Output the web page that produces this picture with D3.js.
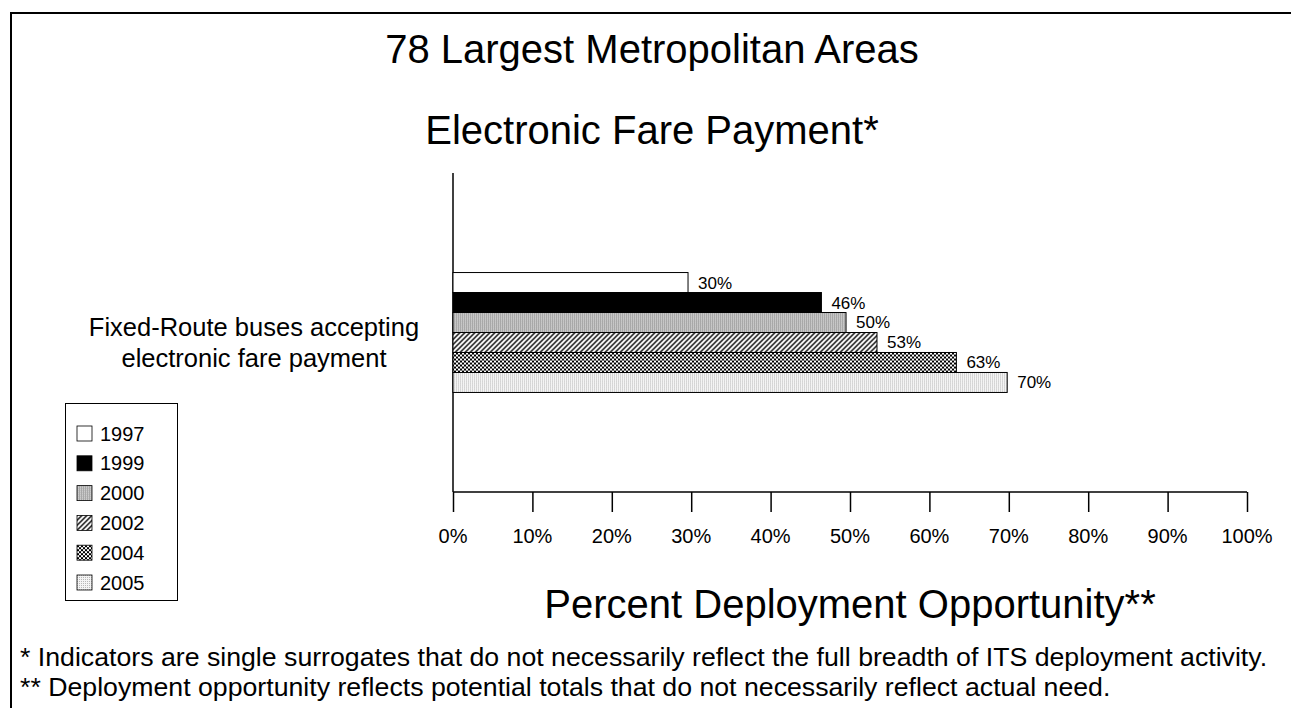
<!DOCTYPE html>
<html><head><meta charset="utf-8">
<script src="https://cdn.jsdelivr.net/npm/d3@7"></script>
<style>body{margin:0;background:#fff;} svg{display:block;} text{font-family:"Liberation Sans",Arial,sans-serif;fill:#000;}</style>
</head><body>
<svg id="chart" width="1291" height="708"></svg>
<script>
const categories = ["Fixed-Route buses accepting electronic fare payment"];
const categoryLines = ["Fixed-Route buses accepting", "electronic fare payment"];
const years = ["1997", "1999", "2000", "2002", "2004", "2005"];
const values = [29.6, 46.4, 49.5, 53.4, 63.4, 69.8];
const ticks = [0, 10, 20, 30, 40, 50, 60, 70, 80, 90, 100];
const titles = ["78 Largest Metropolitan Areas", "Electronic Fare Payment*"];
const xTitle = "Percent Deployment Opportunity**";
const footnotes = [
  "* Indicators are single surrogates that do not necessarily reflect the full breadth of ITS deployment activity.",
  "** Deployment opportunity reflects potential totals that do not necessarily reflect actual need."
];
const fills = ["#fff", "#000", "url(#p2000)", "url(#p2002)", "url(#p2004)", "url(#p2005)"];

const svg = d3.select("#chart");
const defs = svg.append("defs");
// 2000: fine gray grid
let p = defs.append("pattern").attr("id","p2000").attr("patternUnits","userSpaceOnUse").attr("width",2).attr("height",2);
p.append("rect").attr("width",2).attr("height",2).attr("fill","#e4e4e4");
p.append("rect").attr("width",1).attr("height",2).attr("fill","#a8a8a8");
p.append("rect").attr("width",2).attr("height",1).attr("fill","#a8a8a8");
// 2002: diagonal hatch
p = defs.append("pattern").attr("id","p2002").attr("patternUnits","userSpaceOnUse").attr("width",5).attr("height",5);
p.append("rect").attr("width",5).attr("height",5).attr("fill","#fff");
p.append("path").attr("d","M-1,6 L6,-1 M-1,1 L1,-1 M4,6 L6,4").attr("stroke","#000").attr("stroke-width",1.4);
// 2004: checker
p = defs.append("pattern").attr("id","p2004").attr("patternUnits","userSpaceOnUse").attr("width",4).attr("height",4);
p.append("rect").attr("width",4).attr("height",4).attr("fill","#fff");
p.append("rect").attr("width",2).attr("height",2).attr("fill","#000");
p.append("rect").attr("x",2).attr("y",2).attr("width",2).attr("height",2).attr("fill","#000");
// 2005: light dots
p = defs.append("pattern").attr("id","p2005").attr("patternUnits","userSpaceOnUse").attr("width",2).attr("height",2);
p.append("rect").attr("width",2).attr("height",2).attr("fill","#f4f4f4");
p.append("rect").attr("width",1).attr("height",1).attr("fill","#b8b8b8");

// frame
svg.append("rect").attr("x",11).attr("y",13).attr("width",1300).attr("height",720)
  .attr("fill","none").attr("stroke","#000").attr("stroke-width",2);

const x = d3.scaleLinear().domain([0,100]).range([453,1247]);
const y = d3.scaleBand().domain(categories).range([173,492]).paddingOuter(0.83).paddingInner(0);
const yInner = d3.scaleBand().domain(years).range([0, y.bandwidth()]);

// axes
svg.append("line").attr("x1",x(0)).attr("x2",x(0)).attr("y1",173).attr("y2",492).attr("stroke","#000").attr("stroke-width",1.5);
const xAxis = svg.append("g").attr("transform","translate(0,492)")
  .call(d3.axisBottom(x).tickValues(ticks).tickSize(20).tickFormat(""));
xAxis.select(".domain").attr("d", `M${x(0)},0H${x(100)}`).attr("stroke","#000").attr("stroke-width",1.5);
xAxis.selectAll(".tick line").attr("stroke","#000").attr("stroke-width",1.5);
svg.append("g").selectAll("text").data(ticks).join("text")
  .attr("x", d => x(d)).attr("y", 543).attr("text-anchor","middle")
  .style("font-size","20px").text(d => d + "%");

// bars
const g = svg.append("g").attr("transform", `translate(0,${y(categories[0])})`);
g.selectAll("rect").data(values).join("rect")
  .attr("x", x(0)).attr("y", (d,i) => yInner(years[i]))
  .attr("width", d => x(d) - x(0)).attr("height", yInner.bandwidth())
  .attr("fill", (d,i) => fills[i]).attr("stroke","#000").attr("stroke-width",1);
g.selectAll("text").data(values).join("text")
  .attr("x", d => x(d) + 10).attr("y", (d,i) => yInner(years[i]) + yInner.bandwidth()/2 + 6)
  .style("font-size","17px").text(d => Math.round(d) + "%");

// category label
svg.append("text").attr("text-anchor","middle").style("font-size","25.5px")
  .selectAll("tspan").data(categoryLines).join("tspan")
  .attr("x", 254).attr("y", (d,i) => 336 + i*31).text(d => d);

// titles
svg.selectAll(".title").data(titles).join("text").attr("class","title")
  .attr("x", 652).attr("y", (d,i) => 63 + i*81).attr("text-anchor","middle")
  .style("font-size","40px").text(d => d);
svg.append("text").attr("x", 850).attr("y", 618).attr("text-anchor","middle")
  .style("font-size","40px").text(xTitle);
svg.selectAll(".foot").data(footnotes).join("text").attr("class","foot")
  .attr("x", 20).attr("y", (d,i) => 666 + i*30).style("font-size","26.7px").text(d => d);

// legend
const leg = svg.append("g");
leg.append("rect").attr("x",65.5).attr("y",403.5).attr("width",112).attr("height",197)
  .attr("fill","#fff").attr("stroke","#000").attr("stroke-width",1);
const li = leg.selectAll(".li").data(years).join("g").attr("class","li")
  .attr("transform", (d,i) => `translate(77,${426 + i*29.8})`);
li.append("rect").attr("width",15).attr("height",15).attr("fill",(d,i)=>fills[i]).attr("stroke","#000").attr("stroke-width",0.8);
li.append("text").attr("x",23).attr("y",14.5).style("font-size","20px").text(d => d);
</script>
</body></html>
